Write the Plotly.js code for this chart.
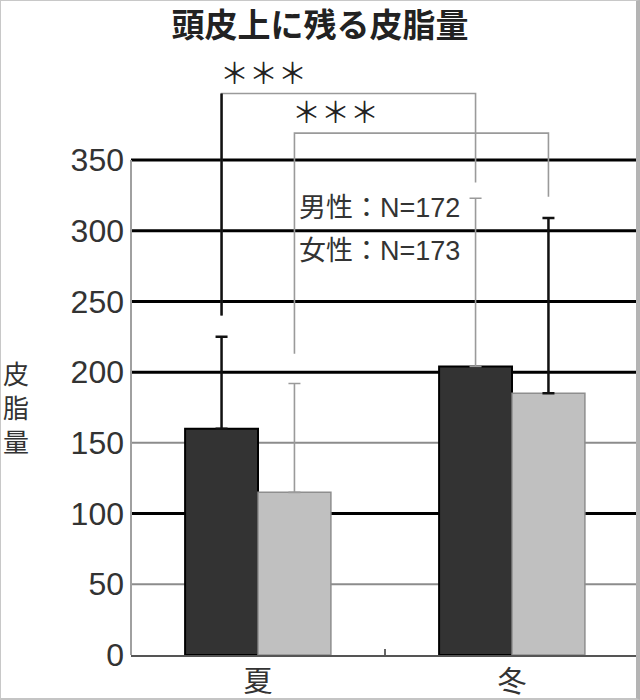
<!DOCTYPE html>
<html>
<head>
<meta charset="utf-8">
<script src="https://cdn.plot.ly/plotly-3.0.1.min.js"></script>
<style>
  html, body { margin: 0; padding: 0; background: #fff; }
  #wrap { position: relative; width: 640px; height: 700px; }
  #chart { width: 640px; height: 700px; }
  /* thin grey frame round the whole picture, as in the scanned figure */
  #frame { position: absolute; left: 0; top: 0; width: 640px; height: 700px; box-sizing: border-box;
           border: 1px solid #c8c8c8; border-right: 4px solid #b4b4b4; border-bottom: 2px solid #c4c4c4; pointer-events: none; }
</style>
</head>
<body>
<div id="wrap"><div id="chart"></div><div id="frame"></div></div>
<script>
  // --- data ---
  var seasons = ["夏", "冬"];
  var male = [160, 204];
  var female = [115, 185];
  var maleErr = [65, 119];
  var femaleErr = [77, 124];
  // the source colours each error bar on its own (not per series)
  var maleErrColor = ["#111111", "#9a9a9a"];
  var femaleErrColor = ["#9a9a9a", "#111111"];

  var yTicks = [0, 50, 100, 150, 200, 250, 300, 350];
  var darkGrid = [100, 200, 250, 300, 350];
  var yMax = 350;        // top of the drawn axis
  var yRoom = 455.35;    // axis range goes higher so brackets/stars sit in data space

  // significance brackets: [0] male 夏 vs 冬, [1] female 夏 vs 冬
  var bracketTop = [397, 369];
  var bracketFrom = [240, 213];
  var bracketTo = [334, 324];
  var stars = ["＊＊＊", "＊＊＊"];

  var notes = ["男性：N=172", "女性：N=173"];
  var noteY = [316, 286];

  var yTitle = "皮脂量";

  // --- geometry helpers ---
  var xs = seasons.map(function (s, i) { return i; });
  var W = 0.287; // bar width in category units
  var maleX = xs.map(function (x) { return x - W / 2; });
  var femaleX = xs.map(function (x) { return x + W / 2; });
  var groupX = [maleX, femaleX];

  var CJK = "Noto Sans CJK JP, sans-serif";
  var LAT = "Liberation Sans, Arial, Noto Sans CJK JP, sans-serif";
  var GREY = "#9a9a9a";

  var traces = [];
  traces.push({
    type: "bar", x: xs, y: male, width: W, offset: -W,
    marker: { color: "#333333", line: { color: "#000000", width: 2 } },
    hoverinfo: "skip", showlegend: false
  });
  traces.push({
    type: "bar", x: xs, y: female, width: W, offset: 0,
    marker: { color: "#c0c0c0", line: { color: "#8e8e8e", width: 1.5 } },
    hoverinfo: "skip", showlegend: false
  });

  // upper error bars, one trace each so every bar keeps its own colour
  function errTrace(x, y, e, col) {
    var dark = col !== GREY;
    return {
      type: "scatter", mode: "markers", x: [x], y: [y],
      marker: { size: 1, opacity: 0 },
      error_y: { type: "data", symmetric: false, array: [e], arrayminus: [0],
                 color: col, thickness: dark ? 2.5 : 1.6, width: 6 },
      hoverinfo: "skip", showlegend: false
    };
  }
  xs.forEach(function (x, i) {
    traces.push(errTrace(maleX[i], male[i], maleErr[i], maleErrColor[i]));
    traces.push(errTrace(femaleX[i], female[i], femaleErr[i], femaleErrColor[i]));
  });

  // brackets
  var ann = [];
  bracketTop.forEach(function (top, i) {
    var gx = groupX[i];
    traces.push({
      type: "scatter", mode: "lines",
      x: [gx[0], gx[0], gx[1], gx[1]],
      y: [bracketFrom[i], top, top, bracketTo[i]],
      line: { color: GREY, width: 1.6 }, hoverinfo: "skip", showlegend: false
    });
    ann.push({
      xref: "x", yref: "y", x: gx[0], y: top, xanchor: "left", yanchor: "bottom",
      xshift: -4, yshift: 0, showarrow: false, text: stars[i],
      font: { family: CJK, size: 29, color: "#222" }
    });
  });
  // left leg of the male bracket is drawn dark in the source
  traces.push({
    type: "scatter", mode: "lines",
    x: [maleX[0], maleX[0]], y: [bracketFrom[0], bracketTop[0]],
    line: { color: "#111", width: 2.5 }, hoverinfo: "skip", showlegend: false
  });

  notes.forEach(function (t, i) {
    ann.push({
      xref: "paper", yref: "y", x: 0.327, y: noteY[i], xanchor: "left", yanchor: "middle",
      showarrow: false, text: t, font: { family: LAT, size: 27, color: "#333" }
    });
  });

  // vertical stacked y title
  ann.push({
    xref: "paper", yref: "y", x: (16 - 131) / 508, y: 176,
    xanchor: "center", yanchor: "middle", showarrow: false,
    text: yTitle.split("").join("<br>"),
    font: { family: CJK, size: 26, color: "#333" }
  });

  // gridlines drawn as shapes: the source mixes black and grey rules
  var shapes = yTicks.filter(function (v) { return v > 0; }).map(function (v) {
    var dark = darkGrid.indexOf(v) >= 0;
    return { type: "line", layer: "below", xref: "paper", yref: "y", x0: 0, x1: 1, y0: v, y1: v,
             line: { color: dark ? "#000000" : "#8c8c8c", width: dark ? 3 : 2 } };
  });
  // left axis line only up to the last tick
  shapes.push({ type: "line", layer: "below", xref: "paper", yref: "y", x0: 0, x1: 0, y0: 0, y1: yMax,
                line: { color: "#a0a0a0", width: 2 } });

  var layout = {
    width: 640, height: 700,
    paper_bgcolor: "#ffffff", plot_bgcolor: "#ffffff",
    margin: { l: 131, r: 1, t: 11, b: 45 },
    title: { text: "頭皮上に残る皮脂量", x: 0.5, xref: "container", y: 1 - 25 / 700, yref: "container",
             yanchor: "middle", font: { family: CJK, size: 33, weight: "bold", color: "#222" } },
    xaxis: {
      type: "linear", range: [-0.5, 1.5], tickmode: "array", tickvals: xs, ticktext: seasons,
      ticks: "", showgrid: false, zeroline: false,
      showline: true, linecolor: "#555", linewidth: 2,
      tickfont: { family: CJK, size: 29, color: "#333" },
      minor: { tickmode: "array", tickvals: [0.5], ticks: "inside", ticklen: 6, tickwidth: 2, tickcolor: "#666", showgrid: false }
    },
    yaxis: {
      range: [0, yRoom], tickmode: "array", tickvals: yTicks, ticks: "",
      showgrid: false, zeroline: false,
      showline: false, ticklabelstandoff: 6,
      tickfont: { family: LAT, size: 32, color: "#333" }
    },
    barmode: "overlay",
    shapes: shapes,
    annotations: ann,
    showlegend: false
  };

  Plotly.newPlot("chart", traces, layout, { staticPlot: true, displayModeBar: false });
</script>
</body>
</html>
